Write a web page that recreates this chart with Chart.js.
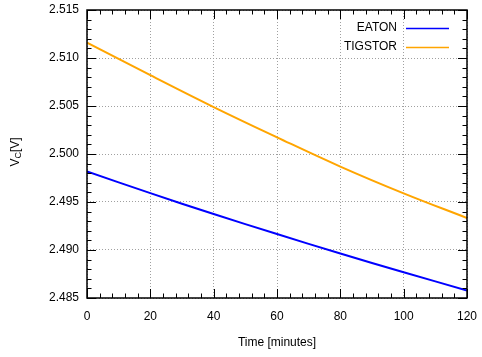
<!DOCTYPE html>
<html>
<head>
<meta charset="utf-8">
<script src="https://cdn.jsdelivr.net/npm/chart.js@4/dist/chart.umd.min.js"></script>
<style>
  html, body { margin: 0; padding: 0; background: #fff; }
  #wrap { width: 482px; height: 357px; }
</style>
</head>
<body>
<div id="wrap"><canvas id="myChart" width="482" height="357"></canvas></div>
<script>
// values, every 20 minutes
const timeMin = [0, 20, 40, 60, 80, 100, 120]
const eaton = [2.49819, 2.49592, 2.49375, 2.49166, 2.48964, 2.48768, 2.48579]
const tigstor = [2.51160, 2.50821, 2.50489, 2.50174, 2.49869, 2.49590, 2.49333]
const seriesNames = ["EATON", "TIGSTOR"]
const seriesColors = ["#0000ff", "#ffa500"]
const yMin = 2.485, yMax = 2.515, yStep = 0.005
const xMin = 0, xMax = 120, xStep = 20

const FONT = "'Liberation Sans', Arial, sans-serif"

function toPoints(xs, ys){
    return xs.map((x, i) => ({x: x, y: ys[i]}))
}

// tick label overhang should not push the plot area, layout padding does that
function noOverhang(scale){
    scale.paddingTop = 0
    scale.paddingBottom = 0
    scale.paddingLeft = 0
    scale.paddingRight = 0
}

// border, inward ticks on all four sides (gnuplot style), legend and axis titles
const framePlugin = {
    id: "frame",
    afterDraw(chart){
        const ctx = chart.ctx
        const a = chart.chartArea
        const xs = chart.scales.x
        const ys = chart.scales.y
        ctx.save()
        ctx.strokeStyle = "#000"
        ctx.lineWidth = 1
        ctx.beginPath()
        // y ticks, minor every 0.001
        for (let i = 0; i <= 30; i++){
            const v = yMin + i * 0.001
            const py = Math.round(ys.getPixelForValue(v)) + 0.5
            const len = (i % 5 === 0) ? 9 : 4.5
            ctx.moveTo(a.left, py); ctx.lineTo(a.left + len, py)
            ctx.moveTo(a.right, py); ctx.lineTo(a.right - len, py)
        }
        // x ticks, minor every 4 minutes
        for (let i = 0; i <= 30; i++){
            const v = xMin + i * 4
            const px = Math.round(xs.getPixelForValue(v)) + 0.5
            const len = (i % 5 === 0) ? 9 : 4.5
            ctx.moveTo(px, a.bottom); ctx.lineTo(px, a.bottom - len)
            ctx.moveTo(px, a.top); ctx.lineTo(px, a.top + len)
        }
        ctx.stroke()
        ctx.lineWidth = 1.5
        ctx.strokeRect(a.left, a.top, a.right - a.left, a.bottom - a.top)

        // legend inside top right
        ctx.font = "12px " + FONT
        ctx.textAlign = "right"
        ctx.textBaseline = "middle"
        chart.data.datasets.forEach((ds, i) => {
            const ly = 28 + i * 19
            ctx.fillStyle = "#000"
            ctx.fillText(ds.label, 397, ly)
            ctx.strokeStyle = ds.borderColor
            ctx.lineWidth = 1.5
            ctx.beginPath()
            ctx.moveTo(406, ly + 0.5)
            ctx.lineTo(449, ly + 0.5)
            ctx.stroke()
        })

        // x title
        ctx.fillStyle = "#000"
        ctx.textAlign = "center"
        ctx.fillText("Time [minutes]", (a.left + a.right) / 2, 343)

        // y title V_C[V], rotated
        ctx.translate(16, 152)
        ctx.rotate(-Math.PI / 2)
        ctx.textAlign = "left"
        const big = "12px " + FONT, small = "9px " + FONT
        ctx.font = big
        const wV = ctx.measureText("V").width
        const wB = ctx.measureText("[V]").width
        ctx.font = small
        const wC = ctx.measureText("C").width
        let x0 = -(wV + wC + wB) / 2
        ctx.font = big
        ctx.fillText("V", x0, 0)
        ctx.font = small
        ctx.fillText("C", x0 + wV, 3)
        ctx.font = big
        ctx.fillText("[V]", x0 + wV + wC, 0)
        ctx.restore()
    }
}

let ctx = document.getElementById("myChart")
let chart = new Chart(ctx, {
    type: "line",
    data: {
        datasets: [{
            label: seriesNames[0],
            borderColor: seriesColors[0],
            backgroundColor: seriesColors[0],
            data: toPoints(timeMin, eaton)
        }, {
            label: seriesNames[1],
            borderColor: seriesColors[1],
            backgroundColor: seriesColors[1],
            data: toPoints(timeMin, tigstor)
        }]
    },
    options: {
        responsive: false,
        animation: false,
        layout: { padding: { left: 0, top: 10, right: 15, bottom: 0 } },
        elements: {
            line: { borderWidth: 2, tension: 0.4 },
            point: { radius: 0 }
        },
        scales: {
            x: {
                type: "linear",
                min: xMin, max: xMax,
                ticks: {
                    stepSize: xStep,
                    padding: 11,
                    color: "#000",
                    font: { family: FONT, size: 12 }
                },
                grid: { color: "#a0a0a0", drawTicks: false, lineWidth: 1 },
                border: { display: false, dash: [1, 2] },
                afterFit(scale){ scale.height = 59; noOverhang(scale) }
            },
            y: {
                min: yMin, max: yMax,
                ticks: {
                    stepSize: yStep,
                    padding: 8,
                    color: "#000",
                    font: { family: FONT, size: 12 },
                    callback: (v) => v.toFixed(3)
                },
                grid: { color: "#a0a0a0", drawTicks: false, lineWidth: 1 },
                border: { display: false, dash: [1, 2] },
                afterFit(scale){ scale.width = 87; noOverhang(scale) }
            }
        },
        plugins: {
            legend: { display: false },
            tooltip: { enabled: false }
        }
    },
    plugins: [framePlugin]
})
</script>
</body>
</html>
